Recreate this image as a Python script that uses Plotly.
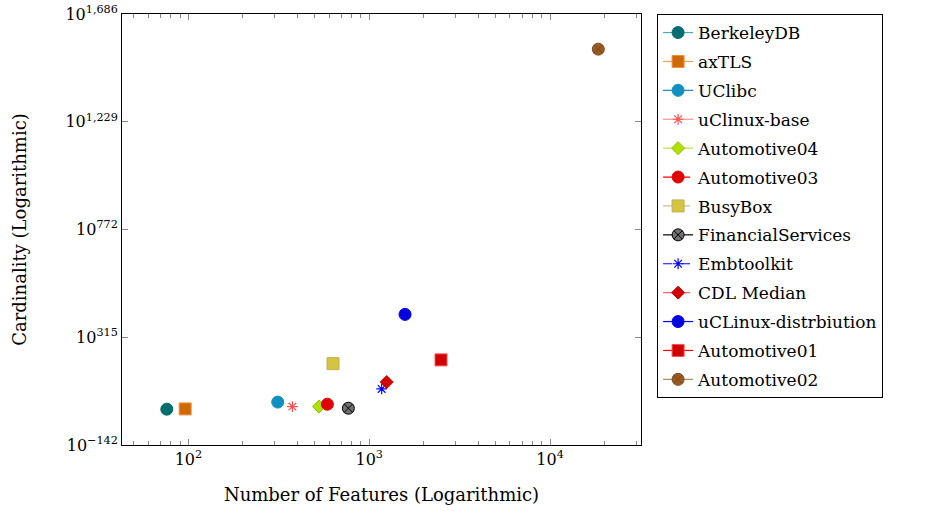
import plotly.graph_objects as go

names = ["BerkeleyDB", "axTLS", "UClibc", "uClinux-base", "Automotive04", "Automotive03",
         "BusyBox", "FinancialServices", "Embtoolkit", "CDL Median", "uCLinux-distrbiution",
         "Automotive01", "Automotive02"]
features = [76, 96, 312, 376, 528, 587, 631, 767, 1172, 1250, 1578, 2495, 18490]
card_exp = [10, 11, 40, 21, 21, 31, 203, 14, 96, 125, 412, 219, 1537]

marker_colors = ["#006e6e", "#d06a00", "#1090c0", "#ff5050", "#b0e000", "#e00000",
                 "#d4c440", "#707070", "#0000ff", "#d00000", "#0000e0", "#d00000", "#9a5a20"]
marker_lines = ["#006e6e", "#f09040", "#1090c0", "#ff5050", "#90c000", "#e00000",
                "#c0b050", "#000000", "#0000ff", "#d00000", "#0000e0", "#ff5050", "#7a4a20"]
line_colors = ["#50a8a8", "#f0a050", "#1888b8", "#ff9090", "#b8e040", "#ff0000",
               "#c8c090", "#000000", "#0000ff", "#ff6060", "#0000ff", "#ff0000", "#a88860"]
symbols = ["circle", "square", "circle", "asterisk", "diamond", "circle",
           "square", "circle-x", "asterisk", "diamond", "circle", "square", "circle-x"]
dashes = ["solid", "solid", "solid", "solid", "solid", "dash",
          "dash", "solid", "dash", "dash", "solid", "solid", "solid"]
sizes = [12, 12, 12, 9, 10, 12, 12, 12, 9, 10, 12, 12, 12]

y_ticks = [-142, 315, 772, 1229, 1686]
y_text = ["10<sup>−142</sup>", "10<sup>315</sup>", "10<sup>772</sup>", "10<sup>1,229</sup>", "10<sup>1,686</sup>"]
x_ticks = [100, 1000, 10000]
x_text = ["10<sup>2</sup>", "10<sup>3</sup>", "10<sup>4</sup>"]

fig = go.Figure()
for i, n in enumerate(names):
    sym = symbols[i]
    ml = dict(color=marker_lines[i], width=1)
    if sym == "asterisk":
        ml = dict(color=marker_colors[i], width=1.2)
    fig.add_trace(go.Scatter(
        x=[features[i]], y=[card_exp[i]], name=n, mode="lines+markers",
        legendgroup=n,
        line=dict(color=line_colors[i], width=1.2, dash=dashes[i]),
        marker=dict(symbol=sym, size=sizes[i], color=marker_colors[i], line=ml),
    ))

minor_vals = []
for d in [10, 100, 1000, 10000]:
    for k in range(2, 10):
        v = k * d
        if 40 <= v <= 32000:
            minor_vals.append(v)

font = "DejaVu Serif"
fig.update_layout(
    width=928, height=513,
    margin=dict(l=122, r=287, t=14, b=68, autoexpand=False),
    paper_bgcolor="white", plot_bgcolor="white",
    font=dict(family=font, size=15, color="black"),
    showlegend=True,
    legend=dict(x=1.031, y=1.0, xanchor="left", yanchor="top",
                bordercolor="black", borderwidth=1, bgcolor="white",
                font=dict(family=font, size=17), tracegroupgap=3.8),
    xaxis=dict(type="log", range=[1.633, 4.503], tickmode="array", tickvals=x_ticks,
               ticktext=x_text, ticks="inside", ticklen=6, tickcolor="#888",
               showline=True, linecolor="black", linewidth=1, mirror="allticks",
               showgrid=False, zeroline=False, automargin=False,
               minor=dict(tickmode="array", tickvals=minor_vals, ticks="inside",
                          ticklen=4, tickcolor="#888", showgrid=False),
               title=dict(text="Number of Features (Logarithmic)", standoff=20),
               tickfont=dict(size=16)),
    yaxis=dict(range=[-142, 1686], tickmode="array", tickvals=y_ticks, ticktext=y_text,
               ticks="inside", ticklen=6, tickcolor="#888",
               showline=True, linecolor="black", linewidth=1, mirror="allticks",
               showgrid=False, zeroline=False, automargin=False,
               title=dict(text="Cardinality (Logarithmic)", standoff=34),
               tickfont=dict(size=16)),
)

fig.write_html("out.html")
